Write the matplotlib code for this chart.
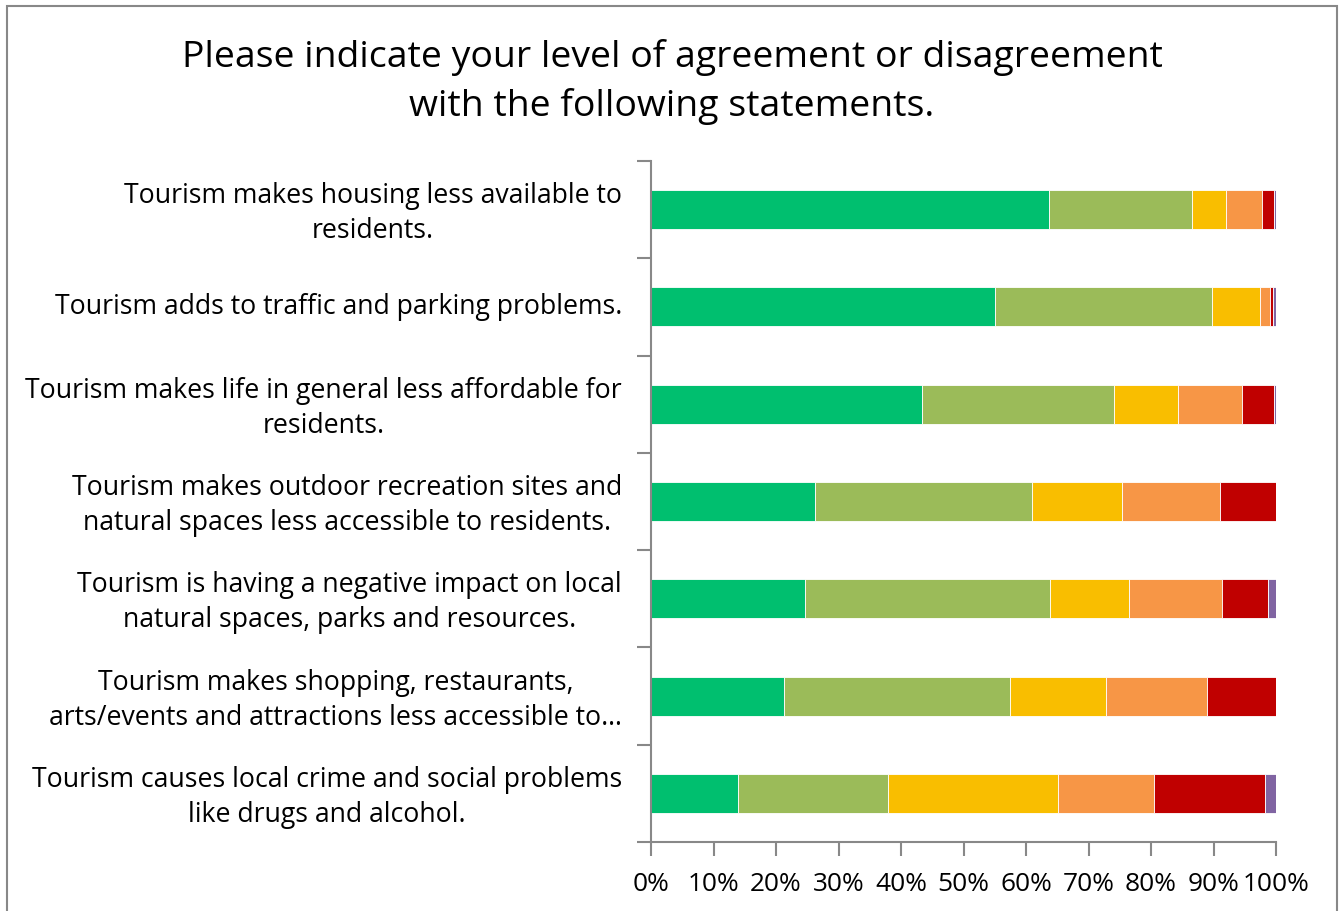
import matplotlib
matplotlib.use("Agg")
import matplotlib.pyplot as plt
import matplotlib.transforms as mtransforms
from matplotlib.patches import Rectangle
import numpy as np

plt.rcParams['font.family'] = ['Open Sans', 'DejaVu Sans']

categories = [
    "Tourism makes housing less available to\nresidents.",
    "Tourism adds to traffic and parking problems.",
    "Tourism makes life in general less affordable for\nresidents.",
    "Tourism makes outdoor recreation sites and\nnatural spaces less accessible to residents.",
    "Tourism is having a negative impact on local\nnatural spaces, parks and resources.",
    "Tourism makes shopping, restaurants,\narts/events and attractions less accessible to…",
    "Tourism causes local crime and social problems\nlike drugs and alcohol.",
]
series_names = ["Strongly agree", "Agree", "Neither agree nor disagree",
                "Disagree", "Strongly disagree", "Don't know"]
strongly_agree = [63.6, 55.0, 43.3, 26.3, 24.6, 21.2, 13.9]
agree = [22.9, 34.7, 30.7, 34.6, 39.2, 36.3, 24.0]
neutral = [5.5, 7.7, 10.3, 14.4, 12.7, 15.3, 27.2]
disagree = [5.8, 1.7, 10.3, 15.8, 14.9, 16.1, 15.4]
strongly_disagree = [1.8, 0.4, 5.0, 8.9, 7.3, 11.1, 17.7]
dont_know = [0.4, 0.5, 0.4, 0.0, 1.3, 0.0, 1.8]
colors = ["#00BF6F", "#9BBB59", "#F9BE00", "#F79646", "#C00000", "#8064A2"]
xtick_labels = ["0%", "10%", "20%", "30%", "40%", "50%", "60%", "70%", "80%", "90%", "100%"]

series = [strongly_agree, agree, neutral, disagree, strongly_disagree, dont_know]

fig = plt.figure(figsize=(13.44, 9.12), dpi=100)
ax = fig.add_axes([651/1344, 1-843/912, 625/1344, 681/912])

y = np.arange(len(categories))
left = np.zeros(len(categories))
for vals, col, name in zip(series, colors, series_names):
    v = np.array(vals)
    ax.barh(y, v, left=left, height=0.4, color=col, edgecolor='white',
            linewidth=0.6, label=name)
    left += v

ax.set_xlim(0, 100)
ax.set_ylim(len(categories) - 0.5, -0.5)
ax.set_xticks(np.arange(0, 101, 10))
ax.set_xticklabels(xtick_labels, fontsize=18.9)
ax.set_yticks(y)
ax.set_yticklabels(categories, fontsize=19.2, ha='center', linespacing=1.34)
ax.set_yticks(np.arange(-0.5, len(categories), 1), minor=True)
ax.tick_params(axis='y', which='major', length=0, pad=0)
ax.tick_params(axis='y', which='minor', length=10, color='#888888', width=1.5)
ax.tick_params(axis='x', which='major', length=10, color='#888888', width=1.5, pad=11)

fig.canvas.draw()
# position y labels: center-aligned text block whose right edge sits at x ~ 622px
renderer = fig.canvas.get_renderer()
shift = mtransforms.ScaledTranslation(0, 4/100, fig.dpi_scale_trans)
for lab in ax.get_yticklabels():
    bb = lab.get_window_extent(renderer)
    w = bb.width
    xc_px = 622 - w / 2
    x_ax = (xc_px - ax.bbox.x0) / ax.bbox.width
    lab.set_x(x_ax)
    lab.set_transform(lab.get_transform() + shift)

for s in ['top', 'right']:
    ax.spines[s].set_visible(False)
for s in ['left', 'bottom']:
    ax.spines[s].set_color('#888888')
    ax.spines[s].set_linewidth(1.5)

fig.text(0.5, 1 - 82/912, "Please indicate your level of agreement or disagreement\nwith the following statements.",
         ha='center', va='center', fontsize=26.9, linespacing=1.44)

fig.patches.append(Rectangle((7/1344, -0.05), 1330/1344, 1 - 7/912 + 0.05,
                             transform=fig.transFigure, fill=False,
                             edgecolor='#888888', linewidth=1.5))

fig.savefig("out.png", dpi=100)
